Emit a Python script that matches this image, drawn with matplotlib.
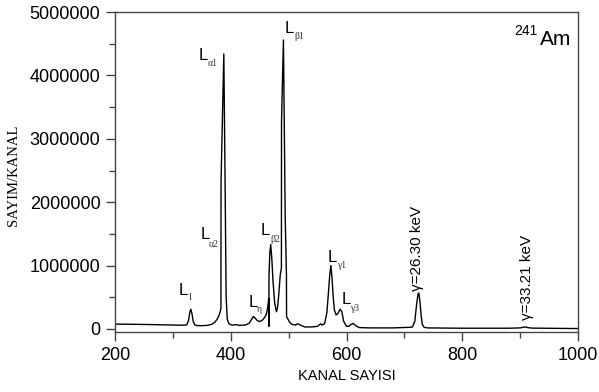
import matplotlib
matplotlib.use("Agg")
import matplotlib.pyplot as plt
from matplotlib.ticker import MultipleLocator

# ---- data ----
channel = [200, 230, 260, 290, 315, 322, 324, 327, 329.5, 331, 333, 335, 338, 342, 350,
           360, 368, 373, 377, 380, 382, 383.0, 383.2, 388, 390, 392, 394, 397, 402,
           410, 415, 425, 432, 436, 439, 442, 446, 450, 455, 460, 462, 464, 465.6, 465.8,
           466.0, 467.5, 469, 471, 473, 476, 479, 481, 483, 485.5, 487.5, 487.7, 491,
           492.5, 494, 496.2, 496.4, 499, 502, 506, 512, 516, 520, 528, 540, 550, 555,
           558, 562, 566, 569, 571, 573, 575, 577, 579, 582, 585, 589, 592, 595, 600,
           604, 608, 612, 616, 622, 640, 680, 710, 714, 718, 721, 723.5, 725, 727, 729,
           731, 734, 740, 800, 880, 900, 905, 909, 913, 920, 960, 1000]
counts = [75000, 72000, 68000, 62000, 58000, 60000, 65000, 130000, 270000, 310000, 240000,
          120000, 60000, 52000, 50000, 55000, 75000, 110000, 160000, 220000, 280000,
          330000, 2320000, 4340000, 2500000, 500000, 150000, 80000, 60000,
          65000, 55000, 60000, 90000, 150000, 195000, 170000, 130000, 115000, 140000,
          200000, 250000, 350000, 480000, 40000, 830000, 1200000, 1330000, 1100000,
          750000, 400000, 270000, 350000, 550000, 850000, 960000, 3270000, 4560000,
          3200000, 1800000, 850000, 190000, 150000, 100000, 70000, 60000, 80000, 60000,
          30000, 30000, 40000, 80000, 60000, 80000, 250000, 600000, 850000, 1000000,
          800000, 500000, 300000, 220000, 240000, 310000, 270000, 120000, 40000,
          40000, 70000, 85000, 50000, 20000, 15000, 15000, 25000, 30000, 120000, 380000,
          550000, 565000, 420000, 200000, 70000, 25000, 15000, 10000, 10000, 15000,
          25000, 30000, 20000, 12000, 8000, 5000]

# line labels: (main letter x, baseline y, subscript, sub x, sub baseline y)
peak_labels = [
    (310.6, 537000, "l", 327.0, 458000),
    (345.2, 4250000, "α1", 360.7, 4155000),
    (493.8, 4676000, "β1", 509.3, 4580000),
    (348.0, 1420000, "α2", 362.4, 1300000),
    (451.8, 1485000, "β2", 467.8, 1366000),
    (430.4, 348000, "η", 445.4, 270000),
    (566.9, 1058000, "γ1", 583.0, 964000),
    (591.7, 395000, "γ3", 606.0, 284000),
]
gamma_labels = [("γ=26.30 keV", 721.8, 600000), ("γ=33.21 keV", 911.0, 140000)]

x_ticks = [200, 400, 600, 800, 1000]
y_ticks = [0, 1000000, 2000000, 3000000, 4000000, 5000000]

sans = ["Liberation Sans", "DejaVu Sans"]
serif = ["Liberation Serif", "DejaVu Serif"]

fig = plt.figure(figsize=(5.99, 3.92), dpi=100)
ax = fig.add_axes([0.192, 0.153, 0.773, 0.816])

ax.plot(channel, counts, color="black", lw=1.0)

ax.set_xlim(200, 1000)
ax.set_ylim(-50000, 5000000)
ax.set_xticks(x_ticks)
ax.set_yticks(y_ticks)
ax.set_xticklabels([str(v) for v in x_ticks], family=sans, fontsize=13)
ax.set_yticklabels([str(v) for v in y_ticks], family=sans, fontsize=13)
ax.xaxis.set_minor_locator(MultipleLocator(100))
ax.yaxis.set_minor_locator(MultipleLocator(500000))
ax.tick_params(which="major", direction="out", length=6.5, width=1.0, color="#444444", pad=4)
ax.tick_params(which="minor", direction="out", length=4, width=1.0, color="#444444")
for s in ax.spines.values():
    s.set_color("#444444")
    s.set_linewidth(1.0)

ax.set_xlabel("KANAL SAYISI", family=sans, fontsize=10.5)
ax.xaxis.set_label_coords(0.5, -0.115)
ax.set_ylabel("SAYIM/KANAL", family=serif, fontsize=10.5)
ax.yaxis.set_label_coords(-0.205, 0.49)

for lx, ly, sub, sx, sy in peak_labels:
    ax.text(lx, ly, "L", family=sans, fontsize=12, ha="left", va="baseline")
    ax.text(sx, sy, sub, family=serif, fontsize=7, ha="left", va="baseline", color="#333333")

for txt, gx, gy in gamma_labels:
    ax.text(gx, gy, txt, family=sans, fontsize=11, rotation=90, ha="center", va="bottom")

ax.text(0.985, 0.897, "Am", transform=ax.transAxes, family=sans, fontsize=15,
        ha="right", va="baseline")
ax.text(0.912, 0.928, "241", transform=ax.transAxes, family=sans, fontsize=10,
        ha="right", va="baseline")

fig.savefig("out.png", dpi=100)
